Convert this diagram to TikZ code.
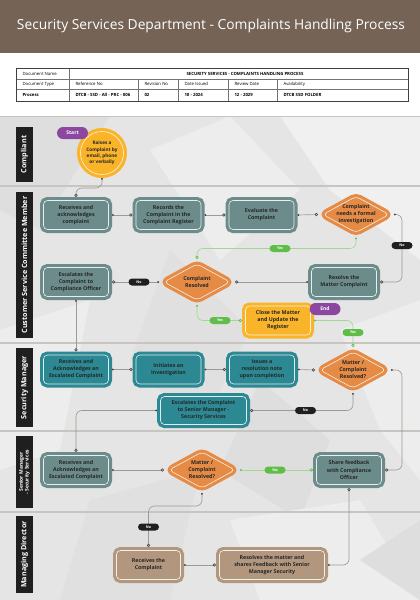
\documentclass[tikz,border=0pt]{standalone}
\usepackage{fontspec}
\setmainfont{Open Sans}
\usepackage{tikz}
\usetikzlibrary{arrows.meta, positioning, calc, shapes.geometric}
\usepackage{xcolor}

\definecolor{hdrbrown}{RGB}{117,99,86}
\definecolor{slate}{RGB}{108,140,140}
\definecolor{smteal}{RGB}{44,137,147}
\definecolor{mdtan}{RGB}{178,151,126}
\definecolor{orng}{RGB}{229,139,69}
\definecolor{ylw}{RGB}{249,180,42}
\definecolor{purp}{RGB}{140,72,160}
\definecolor{okgreen}{RGB}{96,190,72}
\definecolor{flowgray}{RGB}{160,152,146}
\definecolor{lanegray}{RGB}{200,196,192}

\newcommand\boxfont{\fontsize{5.3}{7.1}\selectfont\bfseries}
\newcommand\pillfont{\fontsize{3.6}{4}\selectfont\bfseries}
\newcommand\tabfont{\fontsize{4.3}{5}\selectfont}

\tikzset{
  stepbox/.style={rectangle, rounded corners=4pt, fill=#1, draw=white, draw opacity=0.85, line width=0.6pt,
    preaction={draw=#1, draw opacity=1, line width=7pt}, outer sep=3.5pt, inner sep=0pt,
    minimum width=65pt, minimum height=29pt, align=center, font=\boxfont, text=black!85},
  decision/.style={diamond, aspect=1.75, rounded corners=4pt, fill=orng, draw=white, draw opacity=0.85,
    line width=0.6pt, preaction={draw=orng, draw opacity=1, line width=7pt, line join=round},
    outer sep=3.5pt, inner sep=-2pt,
    minimum width=69pt, minimum height=39pt, align=center, font=\boxfont, text=black!85},
  lanelbl/.style={rectangle, fill=black!88, text=white, rotate=90, minimum height=17pt,
    inner sep=0pt, align=center, font=\fontsize{7.2}{8}\selectfont\bfseries},
  yeslbl/.style={rectangle, rounded corners=3.5pt, fill=okgreen, text=white, font=\pillfont,
    minimum width=21pt, minimum height=7pt, inner sep=0pt},
  nolbl/.style={yeslbl, fill=black!88},
  term/.style={rectangle, rounded corners=6pt, fill=purp, text=white, font=\fontsize{5}{6}\selectfont\bfseries,
    minimum width=31pt, minimum height=12pt, inner sep=0pt},
  flow/.style={draw=flowgray, line width=0.65pt, rounded corners=6pt,
    {Circle[length=1.8pt, color=black!75]}-{Circle[length=3.2pt, fill=ylw!25, color=black!70]}},
  okflow/.style={draw=okgreen!60, line width=0.65pt, rounded corners=6pt,
    {Circle[length=1.8pt, color=okgreen]}-{Circle[length=3.2pt, fill=white, color=okgreen]}}
}

\begin{document}
\begin{tikzpicture}[x=1pt, y=-1pt]
  \useasboundingbox (0,0) rectangle (420,600);
  \fill[white] (0,0) rectangle (420,600);

  \fill[hdrbrown] (0,0) rectangle (420,53);
  \node[text=white, font=\fontsize{13.8}{15}\selectfont] (title) at (211,26)
    {Security Services Department - Complaints Handling Process};

  \draw[black!55, line width=0.4pt] (69,79) -- (408,79) (16,79) -- (69,79) (16,89) -- (408,89);
  \draw[black!55, line width=0.4pt] (69,68) -- (69,101) (138,79) -- (138,101) (178,79) -- (178,101)
    (228,79) -- (228,101) (277,79) -- (277,101);
  \draw[black!75, line width=0.8pt] (16,68) rectangle (408,101);
  \node[font=\tabfont, anchor=west] (t11) at (19,73.5) {Document Name};
  \node[font=\tabfont\bfseries] (t12) at (245,73.5) {SECURITY SERVICES - COMPLAINTS HANDLING PROCESS};
  \node[font=\tabfont, anchor=west] (t21) at (19,84) {Document Type};
  \node[font=\tabfont, anchor=west] (t22) at (72,84) {Reference No};
  \node[font=\tabfont, anchor=west] (t23) at (141,84) {Revision No};
  \node[font=\tabfont, anchor=west] (t24) at (181,84) {Date Issued};
  \node[font=\tabfont, anchor=west] (t25) at (231,84) {Review Date};
  \node[font=\tabfont, anchor=west] (t26) at (280,84) {Availability};
  \node[font=\tabfont\bfseries, anchor=west] (t31) at (19,95) {Process};
  \node[font=\tabfont\bfseries, anchor=west] (t32) at (72,95) {DTCB - SSD - All - PRC - 006};
  \node[font=\tabfont\bfseries, anchor=west] (t33) at (141,95) {02};
  \node[font=\tabfont\bfseries, anchor=west] (t34) at (181,95) {10 - 2024};
  \node[font=\tabfont\bfseries, anchor=west] (t35) at (231,95) {12 - 2029};
  \node[font=\tabfont\bfseries, anchor=west] (t36) at (280,95) {DTCB SSD FOLDER};

  % lanes
  \fill[black!10] (0,116) rectangle (420,600);
  \fill[black!6] (280,116) -- (420,116) -- (420,260) -- (330,190) -- cycle;
  \fill[black!13] (0,116) -- (110,116) -- (40,230) -- (0,210) -- cycle;
  \fill[black!7] (150,150) -- (230,116) -- (300,190) -- (220,260) -- cycle;
  \fill[black!12] (170,250) -- (250,330) -- (200,430) -- (130,360) -- cycle;
  \fill[black!7] (0,330) -- (90,300) -- (60,450) -- (0,470) -- cycle;
  \fill[black!13] (260,380) -- (330,440) -- (300,520) -- (220,470) -- cycle;
  \fill[black!7] (340,330) -- (420,300) -- (420,480) -- (380,430) -- cycle;
  \fill[black!12] (90,500) -- (200,470) -- (170,600) -- (60,600) -- cycle;
  \fill[black!7] (230,520) -- (360,500) -- (420,600) -- (260,600) -- cycle;
  \fill[black!13] (360,560) -- (420,520) -- (420,600) -- cycle;
  \draw[lanegray, line width=1.5pt] (0,116.5) -- (420,116.5) (0,186) -- (420,186) (0,343) -- (420,343)
    (0,431) -- (420,431) (0,512) -- (420,512);

  \node[lanelbl, minimum width=55pt] (lcomp) at (24.5,154.5) {Compliant};
  \node[lanelbl, minimum width=146pt] (lcsc) at (24.5,265) {Customer Service Committee Member};
  \node[lanelbl, minimum width=79pt] (lsm) at (24.5,387.5) {Security Manager};
  \node[lanelbl, minimum width=72pt, font=\fontsize{5}{5.6}\selectfont\bfseries] (lsrm) at (24.5,472)
    {Senior Manager\\- Security Services};
  \node[lanelbl, minimum width=77pt] (lmd) at (24.5,554.5) {Managing Director};

  % steps
  \node[circle, fill=ylw, draw=white, draw opacity=0.85, line width=0.6pt,
    preaction={draw=ylw, draw opacity=1, line width=7pt},
    minimum size=43pt, inner sep=0pt, outer sep=3.5pt, align=center,
    font=\fontsize{4.7}{6.2}\selectfont\bfseries, text=black!85] (raise) at (102,153)
    {Raises a\\Complaint by\\email, phone\\or verbally};
  \node[term] (start) at (72.5,133) {Start};

  \node[stepbox=slate] (recv1) at (76,215) {Receives and\\acknowledges\\complaint};
  \node[stepbox=slate] (rec) at (168.5,215) {Records the\\Complaint in the\\Complaint Register};
  \node[stepbox=slate] (evalc) at (261.5,215) {Evaluate the\\Complaint};
  \node[decision] (needs) at (356,214.5) {Complaint\\needs a formal\\investigation};
  \node[stepbox=slate] (esc1) at (76,282) {Escalates the\\Complaint to\\Compliance Officer};
  \node[decision] (resolved) at (197,282) {Complaint\\Resolved};
  \node[stepbox=slate] (resolvem) at (344,282) {Resolve the\\Matter Complaint};
  \node[stepbox=ylw] (close) at (278,320.5) {Close the Matter\\and Update the\\Register};
  \node[term] (endp) at (325,309) {End};

  \node[stepbox=smteal] (smrecv) at (76,369.5) {Receives and\\Acknowledges an\\Escalated Complaint};
  \node[stepbox=smteal] (init) at (168.5,369.5) {Initiates an\\Investigation};
  \node[stepbox=smteal] (issue) at (262,369.5) {Issues a\\resolution note\\upon completion};
  \node[decision] (smdec) at (353,370) {Matter /\\Complaint\\Resolved?};
  \node[stepbox=smteal, minimum width=86pt, minimum height=28pt] (escsr) at (203.5,410.5)
    {Escalates the Complaint\\to Senior Manager -\\Security Services};

  \node[stepbox=slate] (srrecv) at (76,470) {Receives and\\Acknowledges an\\Escalated Complaint};
  \node[decision] (srdec) at (202,470) {Matter /\\Complaint\\Resolved?};
  \node[stepbox=slate] (share) at (349,470) {Share feedback\\with Compliance\\Officer};

  \node[stepbox=mdtan, minimum width=64pt] (mdrecv) at (148.5,565) {Receives the\\Complaint};
  \node[stepbox=mdtan, minimum width=105pt] (mdres) at (272,565)
    {Resolves the matter and\\shares Feedback with Senior\\Manager Security};

  % connectors
  \draw[flow] (raise.south) -- ++(0,10) -| (recv1.north);
  \draw[flow] (recv1.east) -- (rec.west);
  \draw[flow] (rec.east) -- (evalc.west);
  \draw[flow] (evalc.east) -- (needs.west);
  \draw[okflow] (needs.south) -- ++(0,11) -| (resolved.north);
  \draw[flow] (needs.east) -- ++(8,0) |- (resolvem.east);
  \draw[flow] (resolvem.west) -- (resolved.east);
  \draw[flow] (resolved.west) -- (esc1.east);
  \draw[okflow] (resolved.south) |- (close.west);
  \draw[okflow] (close.east) -| (smdec.north);
  \draw[flow] (esc1.south) -- (smrecv.north);
  \draw[flow] (smrecv.east) -- (init.west);
  \draw[flow] (init.east) -- (issue.west);
  \draw[flow] (issue.east) -- (smdec.west);
  \draw[flow] (smdec.east) -- ++(11,0) |- (share.east);
  \draw[flow] (smdec.south) |- (escsr.east);
  \draw[flow] (escsr.west) -| (srrecv.north);
  \draw[flow] (srrecv.east) -- (srdec.west);
  \draw[okflow] (srdec.east) -- (share.west);
  \draw[flow] (srdec.south) -- ++(0,13) -| (mdrecv.north);
  \draw[flow] (mdrecv.east) -- (mdres.west);
  \draw[flow] (mdres.east) -| (share.south);

  \node[yeslbl] (yes1) at (280,248.5) {Yes};
  \node[nolbl] (no1) at (402,245.5) {No};
  \node[nolbl] (no2) at (139,282) {No};
  \node[yeslbl] (yes2) at (220,320.5) {Yes};
  \node[yeslbl] (yes3) at (353,332.5) {Yes};
  \node[nolbl] (no3) at (305.5,410.5) {No};
  \node[yeslbl] (yes4) at (275,470) {Yes};
  \node[nolbl] (no4) at (148.5,527) {No};
\end{tikzpicture}
\end{document}
